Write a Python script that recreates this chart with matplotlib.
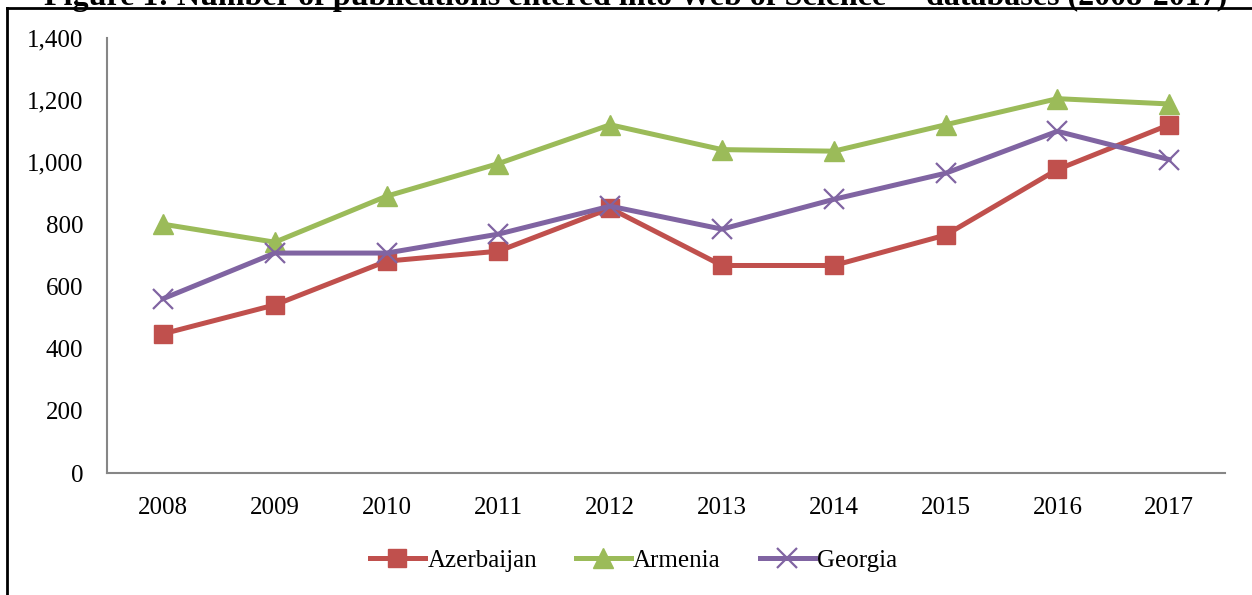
import matplotlib.pyplot as plt
from matplotlib.lines import Line2D

plt.rcParams["font.family"] = ["Liberation Serif", "DejaVu Serif"]

years = [2008, 2009, 2010, 2011, 2012, 2013, 2014, 2015, 2016, 2017]
azerbaijan = [448, 541, 682, 714, 852, 668, 668, 766, 977, 1121]
armenia = [801, 743, 891, 996, 1121, 1041, 1036, 1121, 1205, 1188]
georgia = [561, 708, 708, 769, 859, 785, 881, 965, 1100, 1009]
yticks = [0, 200, 400, 600, 800, 1000, 1200, 1400]

red = "#C0504D"
green = "#9BBB59"
purple = "#8064A2"
axis_grey = "#868686"

fig = plt.figure(figsize=(12.52, 5.95), dpi=100)
ax = fig.add_axes([0.0855, 0.205, 0.893, 0.731])

x = list(range(len(years)))
ax.plot(x, azerbaijan, color=red, lw=3.6, marker="s", markersize=13, label="Azerbaijan")
ax.plot(x, armenia, color=green, lw=3.6, marker="^", markersize=14, label="Armenia")
ax.plot(x, georgia, color=purple, lw=3.6, marker="x", markersize=14,
        markeredgewidth=1.6, label="Georgia")

ax.set_xlim(-0.5, len(years) - 0.5)
ax.set_ylim(0, 1400)
ax.set_xticks(x)
ax.set_xticklabels([str(y) for y in years])
ax.set_yticks(yticks)
ax.set_yticklabels([f"{v:,}" for v in yticks])
ax.tick_params(length=0, labelsize=18, colors="black")
ax.tick_params(axis="y", pad=17)
ax.tick_params(axis="x", pad=17)

for s in ["top", "right"]:
    ax.spines[s].set_visible(False)
for s in ["left", "bottom"]:
    ax.spines[s].set_color(axis_grey)
    ax.spines[s].set_linewidth(1.5)

fig.legend(loc="center", bbox_to_anchor=(0.506, 0.058), ncol=3, frameon=False,
           fontsize=18, handlelength=2.2, handletextpad=0.1, columnspacing=1.55)

# title sits mostly above the page edge, as in the source scan
fig.text(0.508, (595 - 5) / 595,
         "Figure 1: Number of publications entered into Web of Science\u2122 databases (2008-2017)",
         ha="center", va="baseline", fontsize=23, fontweight="bold")
fig.add_artist(Line2D([7 / 1252, 1], [1 - 8 / 595, 1 - 8 / 595], color="black", lw=2))
fig.add_artist(Line2D([7 / 1252, 7 / 1252], [0, 1 - 8 / 595], color="black", lw=2))

plt.savefig("out.png", dpi=100, facecolor="white")
